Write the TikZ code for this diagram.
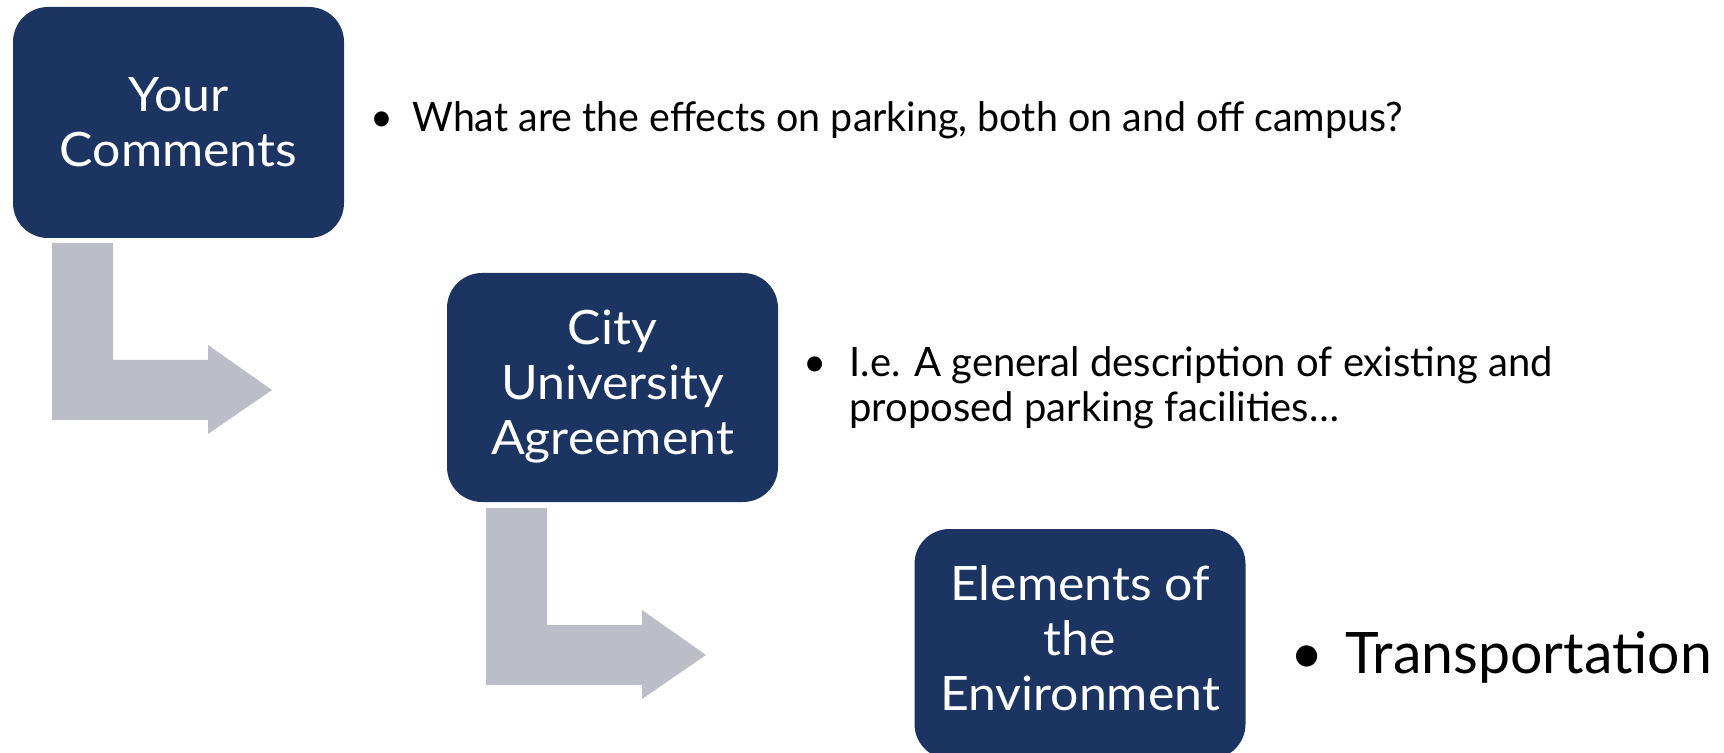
\documentclass[tikz,border=0pt]{standalone}
\usepackage{fontspec}
\newfontfamily\gillbox[FakeStretch=1.055]{Lato}
\newfontfamily\gill[FakeStretch=0.97]{Lato}
\newfontfamily\gilltwo[FakeStretch=0.985]{Lato}
\newfontfamily\gillbig{Lato}
\definecolor{navy}{HTML}{1C3461}
\definecolor{arrowgray}{HTML}{BBBEC6}
\begin{document}
\begin{tikzpicture}[x=0.5pt,y=-0.5pt,
  box/.style={fill=navy, rounded corners=17.5pt, draw=none, inner sep=0, minimum width=165.5pt},
  boxtext/.style={text=white, anchor=base, inner sep=0, font=\gillbox\fontsize{23.7}{27.5}\selectfont},
  bul/.style={anchor=base west, inner sep=0, text=black},
  larrow/.pic={\fill[arrowgray] (0,0) -- (61,0) -- (61,117) -- (156,117) -- (156,102) -- (220,147) -- (156,191) -- (156,177) -- (0,177) -- cycle;}]
\useasboundingbox (0,0) rectangle (1724,753);
\clip (0,0) rectangle (1724,753);
% arrows
\pic (a1) at (52,243) {larrow};
\pic (a2) at (486,508) {larrow};
% boxes
\node[box, minimum height=115.5pt] (b1) at (178.5,122.5) {};
\node[box, minimum height=114.5pt] (b2) at (612.5,387.5) {};
\node[box, minimum height=115pt] (b3) at (1080,644) {};
% box texts
\node[boxtext] (t1) at (178.5,112) {\begin{tabular}[t]{@{}c@{}}Your\\Comments\end{tabular}};
\node[boxtext] (t2) at (612.5,345) {\begin{tabular}[t]{@{}c@{}}City\\University\\Agreement\end{tabular}};
\node[boxtext] (t3) at (1080,600) {\begin{tabular}[t]{@{}c@{}}Elements of\\the\\Environment\end{tabular}};
% bullets
\node[bul, font=\gill\fontsize{20.3}{24}\selectfont] (p1) at (412,132) {\llap{\makebox[30pt]{\textbullet}}What are the effects on parking, both on and off campus?};
\node[bul, font=\gilltwo\fontsize{20.3}{22.5}\selectfont] (p2) at (849,377) {\llap{\makebox[34pt]{\textbullet}}\begin{tabular}[t]{@{}l@{}}I.e. A general description of existing and\\proposed parking facilities…\end{tabular}};
\node[bul, font=\gillbig\fontsize{28.6}{34}\selectfont] (p3) at (1345,673) {\llap{\makebox[38pt]{\textbullet}}Transportation};
\end{tikzpicture}
\end{document}
